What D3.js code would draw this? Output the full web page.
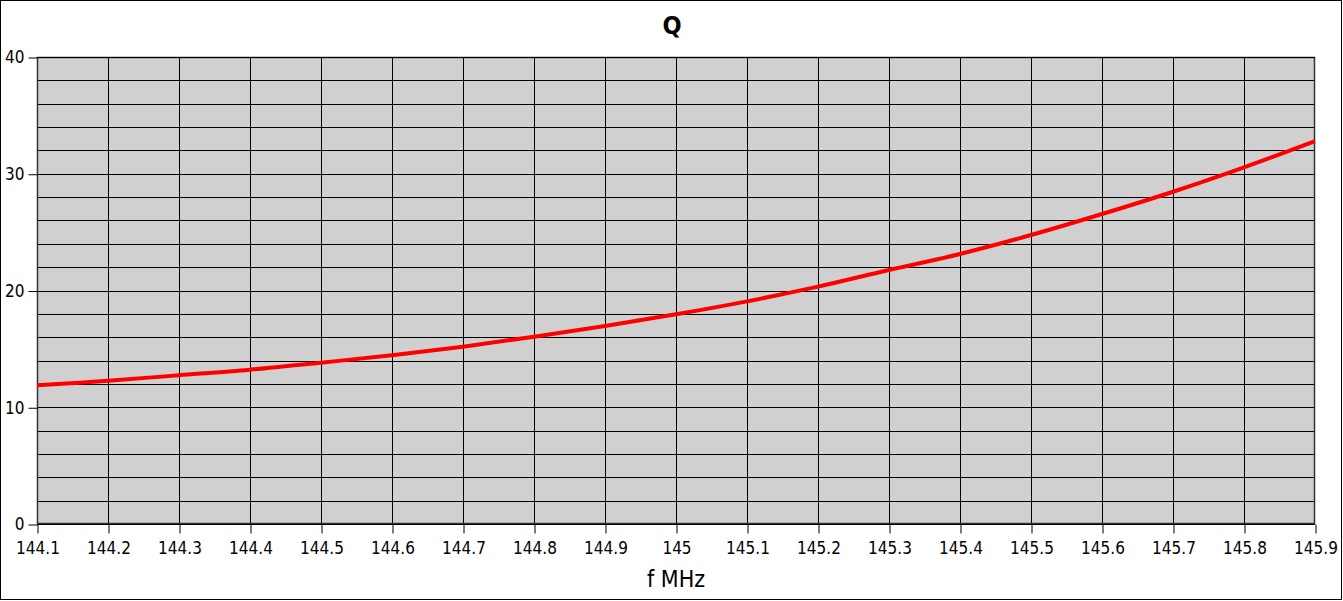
<!DOCTYPE html>
<html>
<head>
<meta charset="utf-8">
<script src="https://cdn.jsdelivr.net/npm/d3@7"></script>
<style>
html,body{margin:0;padding:0;background:#fff;}
svg{display:block;}
text{font-family:"Liberation Sans Narrow","DejaVu Sans Condensed","Liberation Sans",sans-serif;}
</style>
</head>
<body>
<svg id="chart" width="1343" height="601"></svg>
<script>
const freqs = [144.1,144.2,144.3,144.4,144.5,144.6,144.7,144.8,144.9,145.0,145.1,145.2,145.3,145.4,145.5,145.6,145.7,145.8,145.9];
const qValues = [11.88,12.27,12.74,13.22,13.82,14.45,15.19,16.04,16.96,17.96,19.07,20.33,21.76,23.13,24.75,26.55,28.46,30.55,32.8];
const xTickLabels = ["144.1","144.2","144.3","144.4","144.5","144.6","144.7","144.8","144.9","145","145.1","145.2","145.3","145.4","145.5","145.6","145.7","145.8","145.9"];
const yTicks = [0,10,20,30,40];
const yGrid = [2,4,6,8,10,12,14,16,18,20,22,24,26,28,30,32,34,36,38];
const chartTitle = "Q";
const xTitle = "f MHz";

const svg = d3.select("#chart");
const m = {left:37, right:1315, top:57, bottom:524};

svg.append("rect").attr("x",0.5).attr("y",0.5).attr("width",1341).attr("height",599)
  .attr("fill","#fff").attr("stroke","#000").attr("stroke-width",1);

const x = d3.scaleLinear().domain([144.1,145.9]).range([m.left,m.right]);
const y = d3.scaleLinear().domain([0,40]).range([m.bottom,m.top]);

svg.append("rect").attr("x",m.left).attr("y",m.top)
  .attr("width",m.right-m.left).attr("height",m.bottom-m.top).attr("fill","#d0d0d0");

const g = svg.append("g");
g.selectAll("line.hg").data(yGrid).enter().append("line")
  .attr("x1",m.left).attr("x2",m.right)
  .attr("y1",d=>Math.round(y(d))+0.5).attr("y2",d=>Math.round(y(d))+0.5)
  .attr("stroke","#000").attr("stroke-width",1);
g.selectAll("line.vg").data(freqs.slice(1,-1)).enter().append("line")
  .attr("y1",m.top).attr("y2",m.bottom)
  .attr("x1",d=>Math.round(x(d))+0.5).attr("x2",d=>Math.round(x(d))+0.5)
  .attr("stroke","#000").attr("stroke-width",1);

svg.append("rect").attr("x",m.left+0.5).attr("y",m.top+0.5)
  .attr("width",m.right-m.left-1).attr("height",m.bottom-m.top-1)
  .attr("fill","none").attr("stroke","#333").attr("stroke-width",1.5);
svg.append("line").attr("x1",m.left).attr("x2",m.right).attr("y1",m.top+0.5).attr("y2",m.top+0.5).attr("stroke","#000");
svg.append("line").attr("x1",m.left).attr("x2",m.right).attr("y1",m.bottom+0.5).attr("y2",m.bottom+0.5).attr("stroke","#000");

const xAxis = d3.axisBottom(x).tickValues(freqs).tickSize(9).tickPadding(8)
  .tickFormat((d,i)=>xTickLabels[i]);
const xg = svg.append("g").attr("transform",`translate(0.5,${m.bottom+0.5})`).call(xAxis);
xg.select(".domain").remove();
xg.selectAll("line").attr("stroke","#000");
xg.selectAll("text").attr("font-size","17px").attr("fill","#000")
  .attr("font-family","'Liberation Sans Narrow','DejaVu Sans Condensed',sans-serif");

const yAxis = d3.axisLeft(y).tickValues(yTicks).tickSize(9).tickPadding(4);
const yg = svg.append("g").attr("transform",`translate(${m.left+0.5},0.5)`).call(yAxis);
yg.select(".domain").remove();
yg.selectAll("line").attr("stroke","#000");
yg.selectAll("text").attr("font-size","17px").attr("fill","#000")
  .attr("font-family","'Liberation Sans Narrow','DejaVu Sans Condensed',sans-serif");

const line = d3.line().x((d,i)=>x(freqs[i])).y(d=>y(d)).curve(d3.curveCatmullRom);
svg.append("path").datum(qValues).attr("d",line)
  .attr("fill","none").attr("stroke","#ff0000").attr("stroke-width",4)
  .attr("stroke-linejoin","round");

svg.append("text").attr("x",672).attr("y",34).attr("text-anchor","middle")
  .attr("font-family","'DejaVu Sans',sans-serif").attr("font-weight","bold")
  .attr("font-size","25px").attr("fill","#000").text(chartTitle);
svg.append("text").attr("x",676).attr("y",587).attr("text-anchor","middle")
  .attr("font-size","23px").attr("fill","#000").text(xTitle);
</script>
</body>
</html>
